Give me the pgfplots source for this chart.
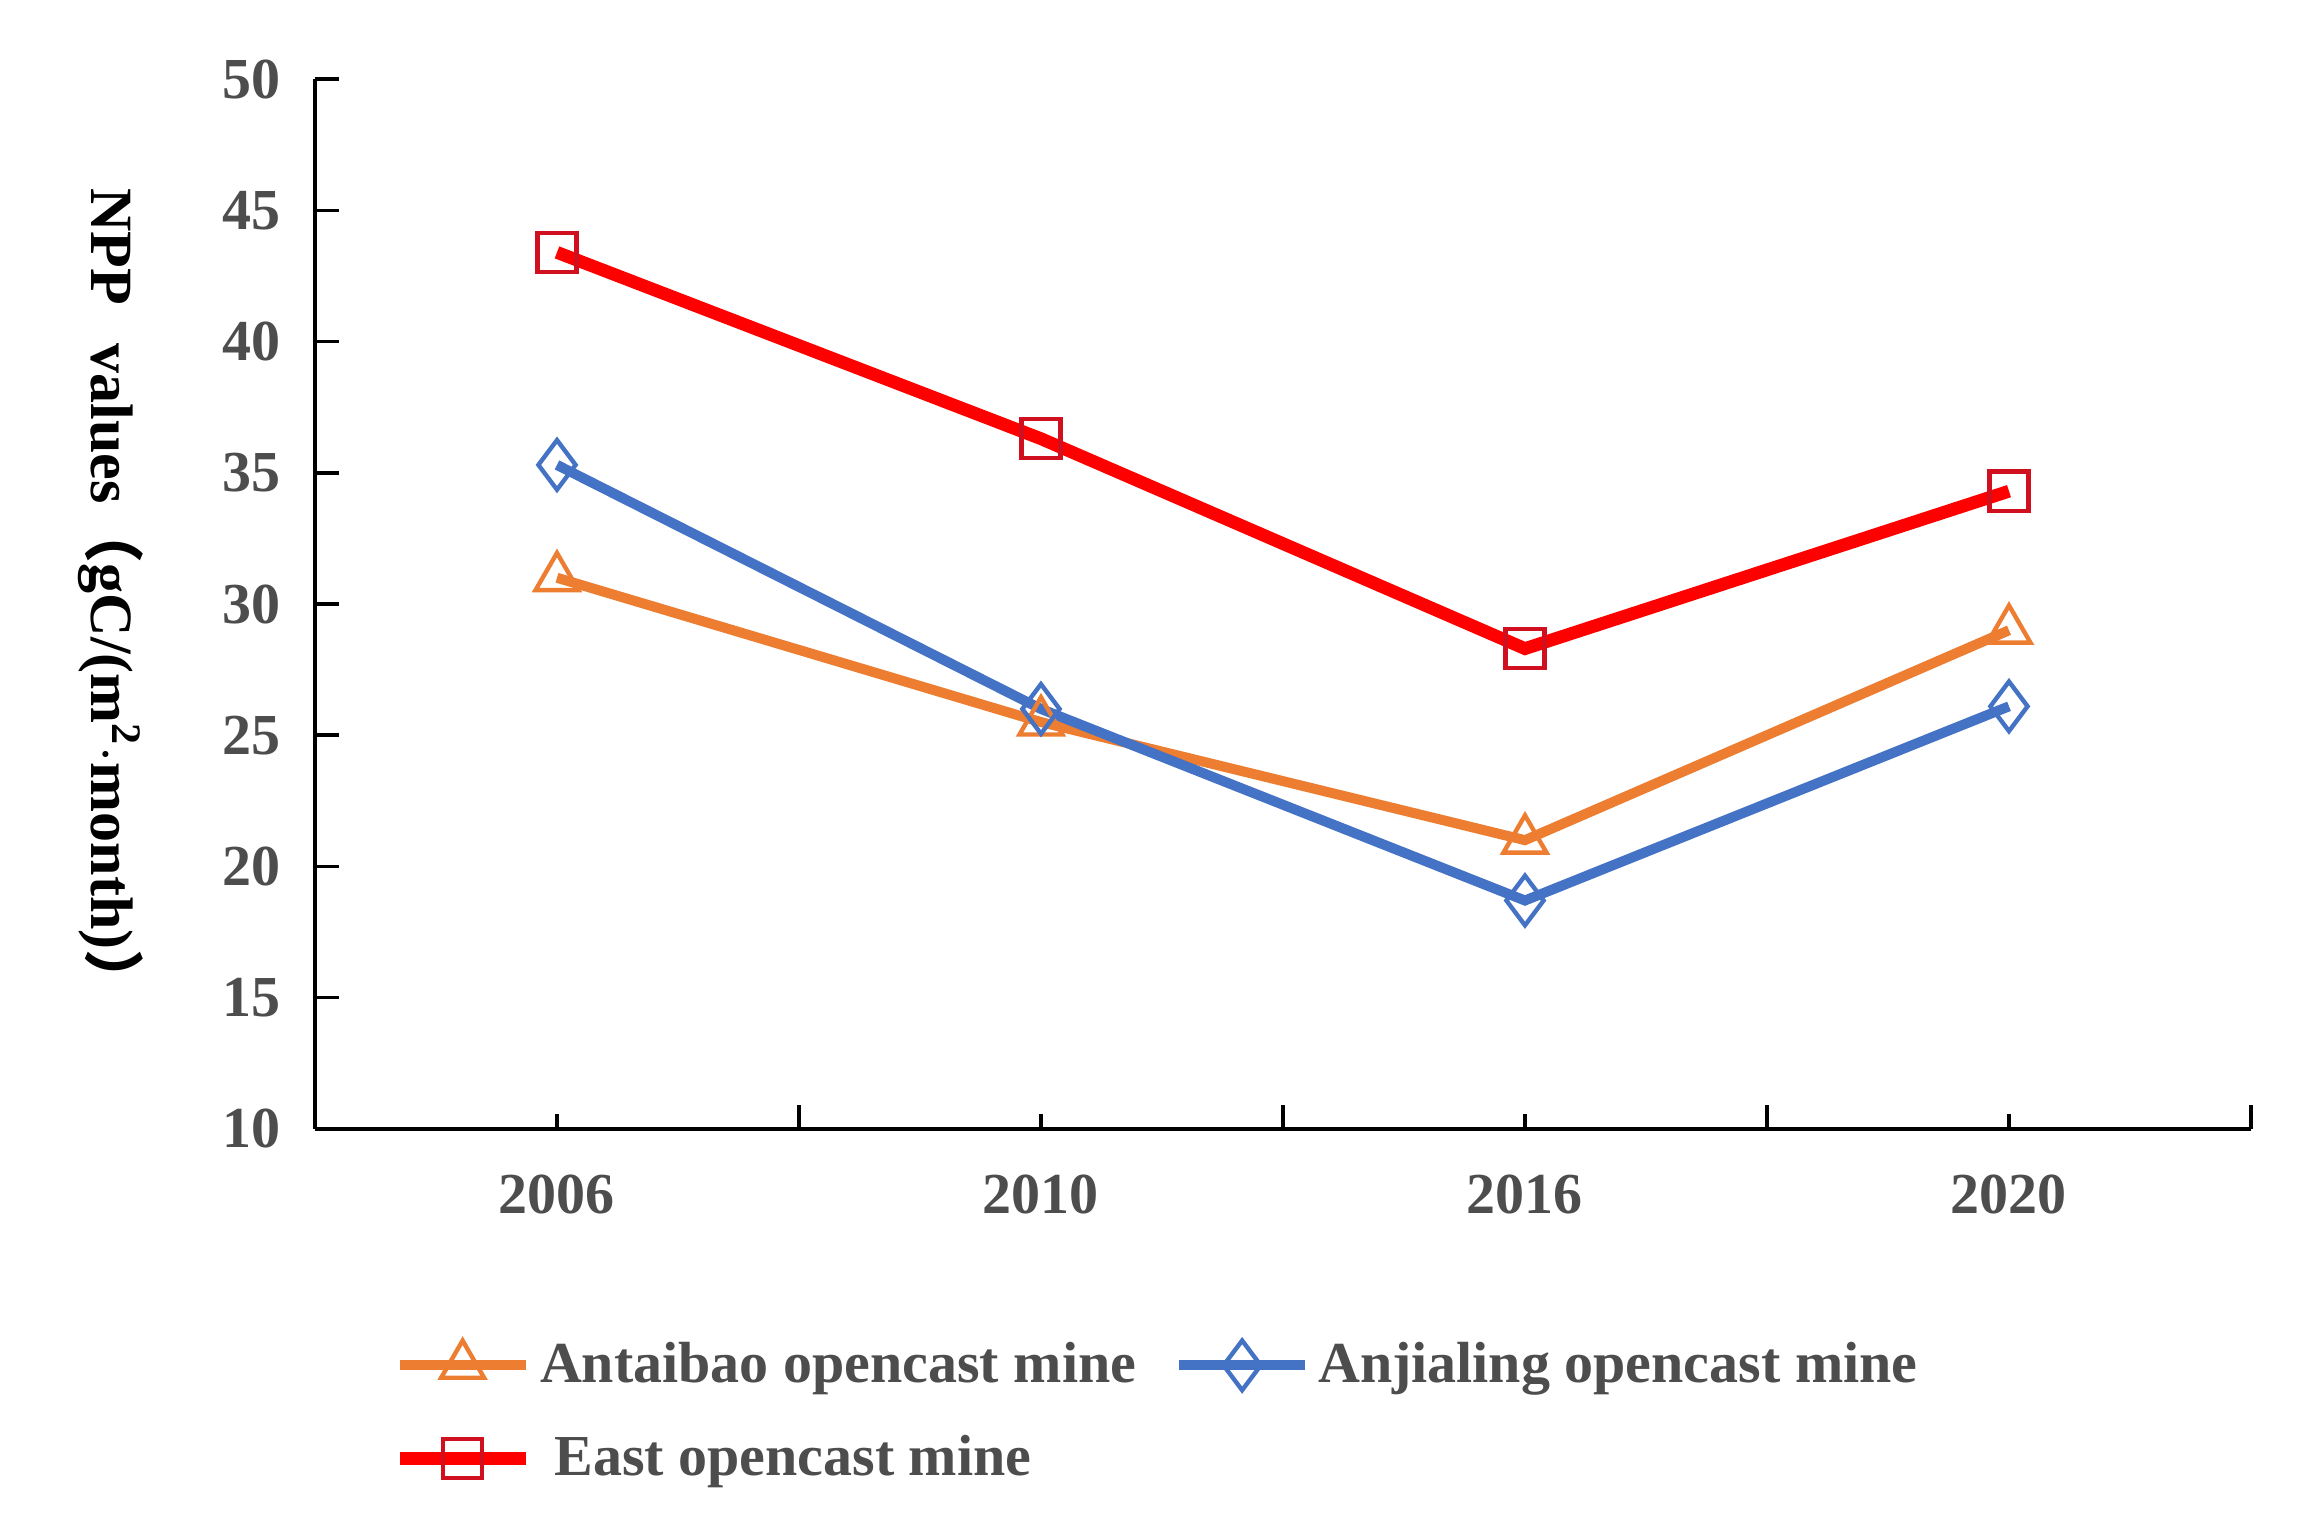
\documentclass[border=0pt]{standalone}
\usepackage{pgfplots}
\pgfplotsset{compat=1.18}
\usepackage{fontspec}
\setmainfont{Liberation Serif}
\newfontfamily\cjk{Noto Sans CJK SC}
\definecolor{cOrange}{HTML}{ED7D31}
\definecolor{cBlue}{HTML}{4472C4}
\definecolor{cRed}{HTML}{FF0000}
\definecolor{cRedMark}{HTML}{D0101E}
\definecolor{tgray}{HTML}{4D4D4D}
\begin{document}
\begin{tikzpicture}
\useasboundingbox (-78.75pt,-96.5pt) rectangle (500.25pt,283.5pt);
\begin{axis}[
  at={(0pt,1.3pt)}, anchor=south west,
  scale only axis, width=484pt, height=262.4pt,
  axis lines=left,
  axis line style={-, line width=0.9pt, black},
  xmin=-0.5, xmax=3.5, ymin=10, ymax=50,
  xtick={0.5,1.5,2.5,3.5}, xticklabels={},
  extra x ticks={0,1,2,3}, extra x tick labels={2006,2010,2016,2020},
  extra x tick style={major tick length=3.7pt},
  ytick={10,15,20,25,30,35,40,45,50},
  tick align=inside,
  major tick length=6pt,
  every tick/.style={black, line width=0.9pt},
  /pgf/number format/assume math mode=true,
  ticklabel style={font=\bfseries\fontsize{14.5}{16}\selectfont, text=tgray},
  xticklabel style={yshift=-8pt},
  yticklabel style={xshift=-5pt},
  ylabel={NPP\hspace{6pt} values{\cjk （}gC/(m\textsuperscript{2}$\cdot$month){\cjk ）}},
  ylabel style={rotate=180, at={(axis description cs:-0.1055,0.505)}, anchor=center, font=\bfseries\fontsize{15}{17}\selectfont, text=black},
  legend columns=2,
  legend cell align=left,
  legend style={draw=none, fill=none, at={(axis description cs:0.04,-0.195)}, anchor=north west,
    font=\bfseries\fontsize{14.5}{16}\selectfont, text=tgray, row sep=7.7pt,
    inner sep=0pt,
    /tikz/every even column/.append style={column sep=7.5pt}},
  legend image code/.code={\draw[mark repeat=2,mark phase=2,#1] plot coordinates {(0pt,0pt) (15.75pt,0pt) (31.5pt,0pt)};},
]
\addplot[cOrange, line width=2.5pt, mark=triangle, mark size=6.2pt, mark options={solid, fill=none, draw=cOrange, line width=1.1pt}]
  coordinates {(0,31.0) (1,25.5) (2,21.0) (3,29.0)};
\addlegendentry{Antaibao opencast mine}
\addplot[cBlue, line width=2.5pt, mark=diamond, mark size=6.2pt, mark options={solid, fill=none, draw=cBlue, line width=1.1pt}]
  coordinates {(0,35.3) (1,26.0) (2,18.7) (3,26.1)};
\addlegendentry{Anjialing opencast mine}
\addplot[cRed, line width=3.2pt, mark=square, mark size=4.9pt, mark options={solid, fill=none, draw=cRedMark, line width=1.1pt}]
  coordinates {(0,43.4) (1,36.3) (2,28.3) (3,34.3)};
\addlegendentry{\ East opencast mine}
\end{axis}
\end{tikzpicture}
\end{document}
